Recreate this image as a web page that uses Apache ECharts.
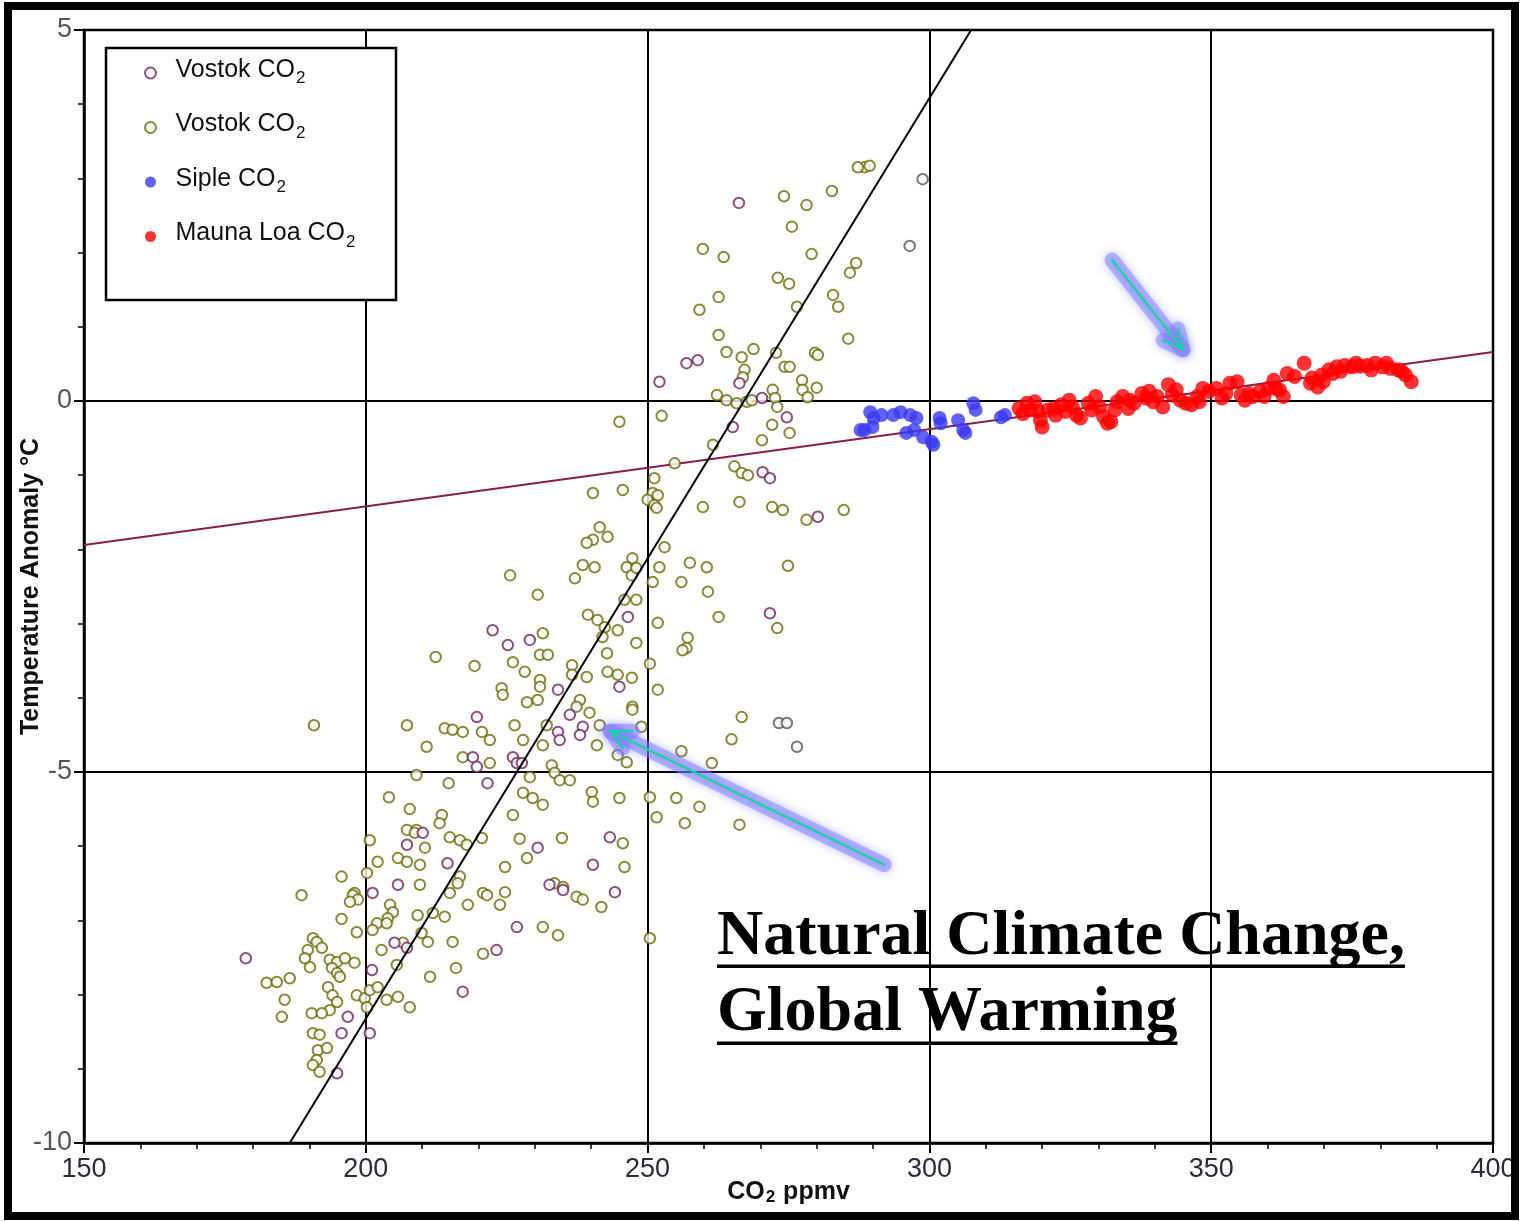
<!DOCTYPE html>
<html>
<head>
<meta charset="utf-8">
<title>Temperature anomaly vs CO2</title>
<script src="https://cdn.jsdelivr.net/npm/echarts@6/dist/echarts.min.js"></script>
<style>
  html, body { margin: 0; padding: 0; background: #ffffff; }
  #chart { width: 1522px; height: 1221px; }
</style>
</head>
<body>
<div id="chart"></div>
<script>
// ---- data: [CO2 ppmv, temperature anomaly °C] ----
const vostokOlive = [
  [288.5,3.15],[287.3,3.15],[289.4,3.17],[274.2,2.76],[278.2,2.64],[282.7,2.83],[275.6,2.35],[259.8,2.05],
  [263.5,1.94],[279.1,1.98],[287.0,1.86],[285.9,1.73],[273.1,1.66],[275.1,1.58],[262.6,1.40],[259.2,1.23],
  [276.5,1.27],[282.9,1.43],[283.8,1.27],[262.6,0.89],[285.6,0.84],[264.0,0.66],[266.7,0.59],[268.8,0.70],
  [272.8,0.65],[279.7,0.65],[280.2,0.62],[267.2,0.42],[266.9,0.32],[274.3,0.46],[275.2,0.46],[277.4,0.28],
  [280.0,0.18],[277.5,0.15],[278.4,0.05],[262.3,0.08],[264.0,0.01],[265.8,-0.03],[267.6,-0.01],[268.5,0.01],
  [272.2,0.15],[272.6,0.04],[273.0,-0.08],[275.2,-0.43],[272.1,-0.32],[270.3,-0.53],[261.6,-0.59],[252.5,-0.20],
  [245.0,-0.28],[254.8,-0.84],[265.4,-0.88],[266.7,-0.97],[267.8,-1.00],[251.2,-1.04],[250.9,-1.24],[251.8,-1.27],
  [250.0,-1.33],[251.2,-1.40],[251.6,-1.44],[240.3,-1.24],[245.6,-1.20],[259.8,-1.43],[266.3,-1.36],[272.1,-1.43],
  [274.0,-1.47],[278.2,-1.60],[284.8,-1.47],[241.5,-1.70],[242.9,-1.83],[240.3,-1.87],[239.2,-1.91],[253.0,-1.97],
  [247.3,-2.12],[246.3,-2.24],[247.2,-2.35],[248.0,-2.25],[238.5,-2.21],[240.6,-2.24],[237.1,-2.39],[225.6,-2.35],
  [252.1,-2.24],[250.9,-2.44],[257.5,-2.18],[260.5,-2.24],[256.0,-2.44],[260.7,-2.57],[274.9,-2.22],[230.5,-2.61],
  [245.9,-2.68],[248.0,-2.68],[239.4,-2.88],[241.1,-2.95],[242.4,-3.05],[242.0,-3.18],[244.7,-3.09],[251.8,-2.99],
  [262.6,-2.91],[273.0,-3.06],[257.1,-3.19],[256.9,-3.33],[256.2,-3.36],[231.4,-3.13],[248.0,-3.26],[242.8,-3.40],
  [230.9,-3.42],[232.3,-3.42],[219.3,-3.57],[226.1,-3.52],[228.2,-3.65],[236.6,-3.56],[236.6,-3.69],[239.2,-3.72],
  [242.9,-3.65],[244.7,-3.69],[247.2,-3.73],[250.4,-3.54],[230.9,-3.76],[230.9,-3.85],[224.1,-3.87],[224.3,-3.96],
  [251.8,-3.89],[228.6,-4.06],[230.5,-4.03],[238.0,-4.03],[247.3,-4.12],[212.4,-3.45],[237.4,-4.12],[239.7,-4.20],
  [241.5,-4.37],[241.0,-4.64],[232.1,-4.37],[207.3,-4.37],[190.8,-4.37],[214.0,-4.41],[215.4,-4.43],[217.2,-4.46],
  [220.6,-4.46],[222.0,-4.57],[226.4,-4.37],[227.9,-4.57],[231.4,-4.64],[210.8,-4.66],[217.2,-4.80],[222.0,-4.88],
  [233.0,-4.91],[233.5,-5.01],[234.4,-5.11],[236.2,-5.11],[209.0,-5.04],[214.7,-5.15],[229.1,-5.07],[227.9,-5.28],
  [229.6,-5.35],[231.4,-5.44],[240.1,-5.27],[240.3,-5.40],[204.1,-5.34],[207.8,-5.50],[213.5,-5.58],[213.1,-5.69],
  [226.1,-5.58],[207.3,-5.78],[209.0,-5.78],[208.7,-5.82],[214.9,-5.88],[216.7,-5.92],[217.9,-5.98],[220.6,-5.89],
  [200.7,-5.92],[210.5,-6.02],[227.3,-5.90],[234.8,-5.89],[202.1,-6.21],[200.2,-6.36],[195.7,-6.41],[205.7,-6.16],
  [207.3,-6.21],[209.6,-6.25],[209.6,-6.52],[216.7,-6.41],[224.7,-6.28],[228.6,-6.16],[220.8,-6.63],[224.7,-6.62],
  [233.5,-6.50],[235.0,-6.55],[188.6,-6.66],[198.0,-6.63],[214.9,-6.63],[195.7,-6.98],[197.7,-6.66],[198.6,-6.72],
  [197.2,-6.75],[204.3,-6.79],[204.8,-6.89],[203.9,-6.97],[202.0,-7.04],[201.2,-7.13],[203.7,-7.04],[198.4,-7.16],
  [216.3,-6.50],[221.5,-6.66],[223.8,-6.79],[218.1,-6.79],[209.2,-6.93],[211.9,-6.90],[214.0,-6.95],[209.9,-7.17],
  [211.0,-7.29],[215.4,-7.29],[206.6,-7.30],[202.8,-7.40],[237.4,-6.68],[238.5,-6.72],[241.8,-6.82],[231.4,-7.09],
  [234.1,-7.20],[220.8,-7.45],[190.6,-7.24],[189.7,-7.40],[189.2,-7.51],[190.1,-7.63],[191.3,-7.29],[192.2,-7.37],
  [193.6,-7.53],[194.9,-7.56],[196.3,-7.51],[198.0,-7.57],[194.0,-7.64],[194.9,-7.71],[195.4,-7.76],[205.5,-7.60],
  [182.4,-7.84],[184.2,-7.83],[186.5,-7.78],[185.6,-8.07],[185.1,-8.30],[193.3,-7.90],[194.1,-8.01],[194.9,-8.10],
  [193.6,-8.21],[198.4,-8.01],[199.8,-8.05],[200.7,-7.94],[202.1,-7.90],[200.2,-8.17],[203.7,-8.07],[205.7,-8.03],
  [207.8,-8.17],[211.4,-7.76],[216.0,-7.64],[190.4,-8.25],[192.2,-8.25],[190.6,-8.52],[191.8,-8.54],[191.5,-8.75],
  [193.1,-8.72],[191.3,-8.88],[190.6,-8.95],[191.8,-9.04],[247.3,-4.16],[248.9,-4.39],[244.7,-4.77],[246.3,-4.87],
  [266.7,-4.26],[264.9,-4.56],[256.0,-4.72],[261.4,-4.88],[245.0,-5.35],[250.4,-5.34],[251.6,-5.61],[255.1,-5.35],
  [259.2,-5.47],[256.6,-5.69],[266.3,-5.71],[245.6,-5.96],[245.9,-6.28],[250.4,-7.24]
];
const vostokPurple = [
  [266.2,2.67],[256.9,0.51],[258.9,0.55],[252.1,0.26],[266.3,0.24],[270.3,0.04],[274.7,-0.22],[265.1,-0.35],
  [270.4,-0.96],[271.7,-1.04],[280.2,-1.56],[246.5,-2.91],[271.7,-2.86],[222.5,-3.09],[225.2,-3.29],[229.1,-3.22],
  [234.1,-3.89],[245.0,-3.85],[236.2,-4.23],[234.1,-4.46],[234.4,-4.57],[238.5,-4.39],[238.0,-4.50],[219.7,-4.26],
  [219.0,-4.80],[219.7,-4.93],[226.1,-4.80],[226.8,-4.88],[227.7,-4.88],[221.6,-5.15],[210.1,-5.82],[207.3,-5.98],
  [230.5,-6.02],[243.3,-5.88],[214.5,-6.23],[205.7,-6.52],[240.3,-6.25],[232.6,-6.52],[201.2,-6.63],[244.2,-6.62],
  [235.0,-6.59],[226.8,-7.09],[223.2,-7.40],[205.1,-7.30],[207.3,-7.37],[217.2,-7.96],[201.1,-7.67],[178.7,-7.51],
  [196.8,-8.30],[195.7,-8.52],[200.7,-8.52],[194.9,-9.06]
];
const vostokGrey = [[298.8,2.99],[296.5,2.09],[273.3,-4.34],[274.7,-4.34],[276.5,-4.66]];
const siple = [
  [287.8,-0.39],[289.5,-0.15],[290.1,-0.23],[291.5,-0.19],[293.6,-0.19],[294.9,-0.15],[296.6,-0.19],[297.7,-0.23],
  [289.9,-0.35],[288.5,-0.39],[295.9,-0.43],[297.3,-0.39],[298.9,-0.49],[300.4,-0.55],[300.7,-0.59],[301.8,-0.23],
  [302.0,-0.30],[305.1,-0.26],[306.0,-0.39],[306.4,-0.43],[307.8,-0.03],[308.2,-0.12],[312.7,-0.22],[313.4,-0.19]
];
const maunaLoa = [
  [315.9,-0.10],[316.6,-0.17],[317.3,-0.03],[318.0,-0.12],[318.7,-0.01],[319.3,-0.14],[319.7,-0.26],[320.0,-0.35],
  [321.0,-0.12],[322.1,-0.10],[322.4,-0.19],[323.4,-0.05],[324.1,-0.14],[324.8,0.01],[325.4,-0.08],[326.1,-0.19],
  [326.8,-0.23],[328.2,-0.03],[328.8,-0.12],[329.5,0.06],[330.2,-0.08],[330.9,-0.21],[331.6,-0.30],[332.2,-0.28],
  [332.9,-0.12],[333.3,-0.01],[334.3,0.06],[335.3,-0.10],[335.6,0.01],[336.3,-0.03],[337.7,0.10],[338.4,0.04],
  [339.0,0.13],[339.7,-0.01],[340.4,0.06],[341.4,-0.08],[342.4,0.22],[343.1,0.08],[343.8,0.15],[344.5,0.01],
  [345.5,-0.03],[346.5,-0.05],[347.5,0.06],[347.9,-0.01],[348.5,0.17],[349.6,0.13],[350.9,0.17],[351.9,0.04],
  [352.6,0.10],[353.3,0.24],[354.6,0.26],[355.3,0.08],[356.0,0.01],[356.7,0.10],[357.4,0.06],[358.7,0.13],
  [359.4,0.06],[360.1,0.17],[361.1,0.28],[361.4,0.17],[362.1,0.15],[362.8,0.06],[363.5,0.37],[364.8,0.33],
  [366.5,0.51],[367.6,0.24],[367.9,0.31],[368.9,0.19],[369.6,0.35],[369.9,0.26],[370.9,0.42],[371.6,0.37],
  [372.3,0.46],[373.0,0.40],[373.7,0.48],[375.0,0.46],[375.7,0.51],[376.4,0.47],[377.7,0.48],[378.4,0.42],
  [379.1,0.51],[380.4,0.46],[381.1,0.51],[381.8,0.44],[383.2,0.42],[383.8,0.40],[384.5,0.35],[385.5,0.26]
];
// fitted trend lines
const fitGlacial = [[186.5,-10],[307.4,5]];
const fitModern = [[150,-1.94],[400,0.66]];
// annotation arrows (shaft from tail to tip, head = barb, tip, barb)
const arrowShafts = [
  [[332.4,1.90],[345.0,0.69]],
  [[292.0,-6.25],[243.4,-4.45]]
];
const arrowHeads = [
  [[344.1,0.97],[345.0,0.69],[341.5,0.82]],
  [[247.3,-4.45],[243.4,-4.45],[245.6,-4.68]]
];
// axes
const xRange = { min: 150, max: 400, step: 50 };
const yRange = { min: -10, max: 5, step: 5 };
const legendLabels = {
  vostokPurple: '{m|Vostok CO}{s|2}',
  vostokOlive: '{m|Vostok CO}{s|2}',
  siple: '{m|Siple CO}{s|2}',
  maunaLoa: '{m|Mauna Loa CO}{s|2}'
};
const headline = ['Natural Climate Change,', 'Global Warming'];

const chart = echarts.init(document.getElementById('chart'), null, { renderer: 'canvas' });

const headFont = 'bold 64px "Liberation Serif", "Times New Roman", serif';
const measureCtx = document.createElement('canvas').getContext('2d');
measureCtx.font = headFont;
const headWidths = headline.map(t => measureCtx.measureText(t).width);
const headX = 717;
const headY = [937, 1013];
const underlineY = [966, 1043];

const axisFont = '"Liberation Sans", Arial, sans-serif';

const option = {
  animation: false,
  backgroundColor: '#ffffff',
  grid: {
    left: 84, right: 29, top: 30, bottom: 78,
    outerBoundsMode: 'none', containLabel: false,
    show: true, borderColor: '#000', borderWidth: 2.5, backgroundColor: 'transparent'
  },
  xAxis: {
    type: 'value', min: xRange.min, max: xRange.max, interval: xRange.step,
    axisLine: { show: true, onZero: false, lineStyle: { color: '#000', width: 2.5 } },
    axisTick: { show: true, inside: false, length: 10, lineStyle: { color: '#000', width: 2 } },
    minorTick: { show: true, splitNumber: 5, length: 6, lineStyle: { color: '#000', width: 1.5 } },
    splitLine: { show: true, lineStyle: { color: '#000', width: 2 } },
    axisLabel: { margin: 13, fontSize: 27, color: '#2b2b3a', fontFamily: axisFont },
    name: '{b|CO}{s|2}{b| ppmv}',
    nameLocation: 'middle', nameGap: 35, nameMoveOverlap: false,
    nameTextStyle: {
      rich: {
        b: { fontSize: 25, fontWeight: 'bold', fontFamily: axisFont, color: '#111', lineHeight: 28 },
        s: { fontSize: 17, fontWeight: 'bold', fontFamily: axisFont, color: '#111', lineHeight: 17, padding: [20, 1, 0, 1], verticalAlign: 'bottom' }
      }
    }
  },
  yAxis: {
    type: 'value', min: yRange.min, max: yRange.max, interval: yRange.step,
    axisLine: { show: true, onZero: false, lineStyle: { color: '#000', width: 2.5 } },
    axisTick: { show: true, inside: false, length: 10, lineStyle: { color: '#000', width: 2 } },
    minorTick: { show: true, splitNumber: 5, length: 6, lineStyle: { color: '#000', width: 1.5 } },
    splitLine: { show: true, lineStyle: { color: '#000', width: 2 } },
    axisLabel: { margin: 12, fontSize: 27, color: '#555', fontFamily: axisFont },
    name: 'Temperature Anomaly °C',
    nameLocation: 'middle', nameGap: 40, nameRotate: 90, nameMoveOverlap: false,
    nameTextStyle: { fontSize: 25, fontWeight: 'bold', fontFamily: axisFont, color: '#111' }
  },
  legend: {
    orient: 'vertical', left: 144, top: 50, padding: 0,
    itemWidth: 40, itemHeight: 11, itemGap: 16,
    selectedMode: false, z: 6,
    data: [
      { name: 'vostokPurple', icon: 'emptyCircle' },
      { name: 'vostokOlive', icon: 'emptyCircle' },
      { name: 'siple', icon: 'circle' },
      { name: 'maunaLoa', icon: 'circle' }
    ],
    formatter: n => legendLabels[n],
    textStyle: {
      color: '#111', fontFamily: axisFont, fontSize: 25,
      rich: {
        m: { fontSize: 25, fontFamily: axisFont, color: '#111', lineHeight: 28, padding: [0, 0, 6, 0] },
        s: { fontSize: 17, fontFamily: axisFont, color: '#111', lineHeight: 17, padding: [20, 0, 0, 1], verticalAlign: 'bottom' }
      }
    }
  },
  graphic: {
    elements: [
      { type: 'rect', z: 5, shape: { x: 106, y: 48, width: 290, height: 252 },
        style: { fill: '#fff', stroke: '#000', lineWidth: 2.5 } },
      { type: 'rect', z: 100, silent: true, shape: { x: 8, y: 6, width: 1507, height: 1210 },
        style: { fill: 'none', stroke: '#000', lineWidth: 8 } },
      { type: 'text', z: 50, x: headX, y: headY[0],
        style: { text: headline[0], font: headFont, fill: '#000', verticalAlign: 'middle', align: 'left' } },
      { type: 'text', z: 50, x: headX, y: headY[1],
        style: { text: headline[1], font: headFont, fill: '#000', verticalAlign: 'middle', align: 'left' } },
      { type: 'rect', z: 50, shape: { x: headX, y: underlineY[0] - 1.5, width: headWidths[0], height: 3.5 }, style: { fill: '#000' } },
      { type: 'rect', z: 50, shape: { x: headX, y: underlineY[1] - 1.5, width: headWidths[1], height: 3.5 }, style: { fill: '#000' } }
    ]
  },
  series: [
    {
      name: 'fitModern', type: 'line', data: fitModern, showSymbol: false, silent: true, z: 1,
      lineStyle: { color: '#8c1c4c', width: 2 }
    },
    {
      name: 'vostokOlive', type: 'scatter', data: vostokOlive, symbol: 'emptyCircle', symbolSize: 10.5, z: 2,
      itemStyle: { color: '#6b6b08', borderWidth: 3.5 }
    },
    {
      name: 'vostokPurple', type: 'scatter', data: vostokPurple, symbol: 'emptyCircle', symbolSize: 10.5, z: 2,
      itemStyle: { color: '#702262', borderWidth: 3.5 }
    },
    {
      name: 'vostokGrey', type: 'scatter', data: vostokGrey, symbol: 'emptyCircle', symbolSize: 10.5, z: 2,
      itemStyle: { color: '#555555', borderWidth: 3.5 }
    },
    {
      name: 'fitGlacial', type: 'line', data: fitGlacial, showSymbol: false, silent: true, z: 3,
      lineStyle: { color: '#000', width: 2 }
    },
    {
      name: 'siple', type: 'scatter', data: siple, symbol: 'circle', symbolSize: 14, z: 4,
      itemStyle: { color: '#3a3af2' }
    },
    {
      name: 'maunaLoa', type: 'scatter', data: maunaLoa, symbol: 'circle', symbolSize: 15, z: 4,
      itemStyle: { color: '#ff0000' }
    },
    {
      name: 'arrowGlow', type: 'lines', coordinateSystem: 'cartesian2d', polyline: true, silent: true, z: 8,
      lineStyle: { color: 'rgba(125,125,255,0.5)', width: 15, cap: 'round', join: 'round', opacity: 1,
        shadowBlur: 10, shadowColor: 'rgba(100,100,255,0.8)' },
      data: arrowShafts.concat(arrowHeads).map(c => ({ coords: c }))
    },
    {
      name: 'arrowLine', type: 'lines', coordinateSystem: 'cartesian2d', polyline: true, silent: true, z: 9,
      lineStyle: { color: '#18d49c', width: 2.2, opacity: 1, cap: 'round' },
      data: arrowShafts.concat(arrowHeads).map(c => ({ coords: c }))
    }
  ]
};

chart.setOption(option);
</script>
</body>
</html>
